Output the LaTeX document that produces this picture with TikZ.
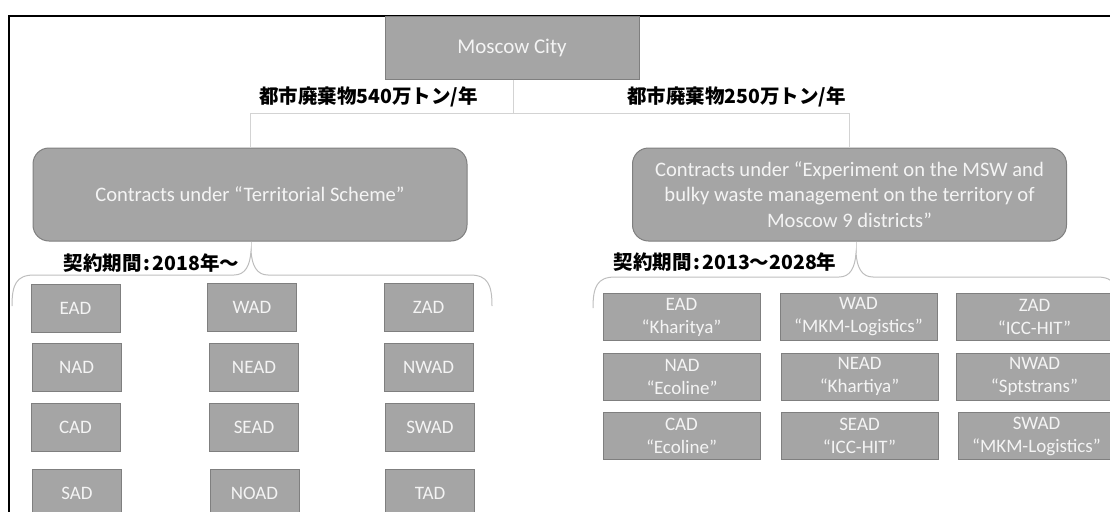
\documentclass[tikz,border=0pt]{standalone}
\usepackage{fontspec}
\setmainfont{Carlito}
\newfontfamily\jp{Noto Sans CJK JP}
\definecolor{boxfill}{HTML}{A5A5A5}
\definecolor{boxline}{HTML}{7F7F7F}
\definecolor{connc}{HTML}{D3D3D3}
\definecolor{boxtext}{HTML}{F4F4F4}
\tikzset{
  dbox/.style={draw=boxline, fill=boxfill, line width=1pt, minimum width=89pt, minimum height=48pt,
    inner sep=0pt, text=boxtext, font=\fontsize{19}{22}\selectfont},
  rdbox/.style={dbox, minimum width=157pt, minimum height=47pt, align=center,
    font=\fontsize{19}{23}\selectfont},
  rbox/.style={draw=boxline, fill=boxfill, line width=1pt, rounded corners=16pt, minimum width=434pt,
    minimum height=93pt, inner sep=0pt, align=center, text=boxtext, font=\fontsize{20.6}{25.5}\selectfont},
  topbox/.style={draw=boxline, fill=boxfill, line width=1pt, minimum width=254pt, minimum height=62pt,
    inner sep=0pt, text=boxtext, font=\fontsize{21}{24}\selectfont},
  jplabel/.style={inner sep=0pt, font=\jp\bfseries\fontsize{19.5}{22}\selectfont},
  connline/.style={draw=connc, line width=1pt},
  bracestyle/.style={draw=connc!90!black, line width=1pt},
}
\begin{document}
\begin{tikzpicture}[x=1pt,y=-1pt]
\useasboundingbox (0,0) rectangle (1110,511);
\clip (0,0) rectangle (1110,511);
% frame
\draw[line width=2pt] (8.5,512) -- (8.5,16.5) -- (1111,16.5);
% top
\node[topbox] (moscow) at (512,48) {Moscow City};
\node[rbox] (lbox) at (250,194.5) {Contracts under “Territorial Scheme”};
\node[rbox] (rbox) at (849.5,194.5) {Contracts under “Experiment on the MSW and\\bulky waste management on the territory of\\Moscow 9 districts”};
\coordinate (split) at (513,113);
\draw[connline] (moscow.south -| split) -- (split);
\draw[connline] (split) -| (lbox.north);
\draw[connline] (split) -| (rbox.north);
\node[jplabel] (w540) at (368.5,97) {都市廃棄物540万トン/年};
\node[jplabel] (w250) at (736.5,97) {都市廃棄物250万トン/年};
% braces
\coordinate (ltip) at (251,251);
\coordinate (rtip) at (856,253);
\draw[connline] (lbox.south -| ltip) -- (ltip);
\draw[connline] (rbox.south -| rtip) -- (rtip);
\draw[bracestyle] (12,306) .. controls (12,285) and (16,275) .. (34,275) -- (234,275)
  .. controls (245,275) and (250,266) .. (ltip) .. controls (252,266) and (257,275) .. (268,275)
  -- (470,275) .. controls (488,275) and (492,285) .. (492,306);
\draw[bracestyle] (593,308) .. controls (593,287) and (597,277) .. (615,277) -- (839,277)
  .. controls (850,277) and (855,268) .. (rtip) .. controls (857,268) and (862,277) .. (873,277)
  -- (1097,277) .. controls (1115,277) and (1119,287) .. (1119,308);
\node[jplabel] (p1) at (151.5,263) {契約期間\kern2pt:\kern2pt2018年～};
\node[jplabel] (p2) at (725,262) {契約期間\kern2pt:\kern2pt2013～2028年};
% left grid
\node[dbox] (lEAD) at (75.5,308) {EAD};
\node[dbox] (lWAD) at (252,307) {WAD};
\node[dbox] (lZAD) at (428.5,307) {ZAD};
\node[dbox] (lNAD) at (76.5,367) {NAD};
\node[dbox] (lNEAD) at (254,367) {NEAD};
\node[dbox] (lNWAD) at (428.5,367) {NWAD};
\node[dbox] (lCAD) at (75.5,427) {CAD};
\node[dbox] (lSEAD) at (254,427) {SEAD};
\node[dbox] (lSWAD) at (430,427) {SWAD};
\node[dbox] (lSAD) at (77,493) {SAD};
\node[dbox] (lNOAD) at (254.5,493) {NOAD};
\node[dbox] (lTAD) at (430,493) {TAD};
% right grid
\node[rdbox] (rEAD) at (681.5,317) {EAD\\“Kharitya”};
\node[rdbox] (rWAD) at (858.5,316.5) {WAD\\“MKM-Logistics”};
\node[rdbox] (rZAD) at (1034.5,317) {ZAD\\“ICC-HIT”};
\node[rdbox] (rNAD) at (682,376.5) {NAD\\“Ecoline”};
\node[rdbox] (rNEAD) at (859.5,376.5) {NEAD\\“Khartiya”};
\node[rdbox] (rNWAD) at (1034.5,376.5) {NWAD\\“Sptstrans”};
\node[rdbox] (rCAD) at (681.5,435.5) {CAD\\“Ecoline”};
\node[rdbox] (rSEAD) at (859.5,436) {SEAD\\“ICC-HIT”};
\node[rdbox] (rSWAD) at (1036.5,436) {SWAD\\“MKM-Logistics”};
\end{tikzpicture}
\end{document}
